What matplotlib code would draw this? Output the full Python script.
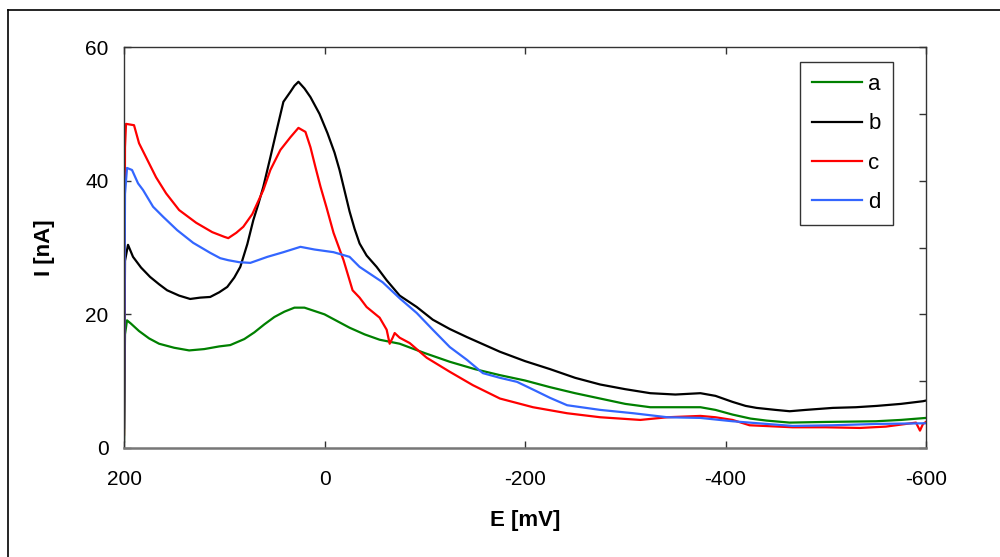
import matplotlib
matplotlib.use("Agg")
import matplotlib.pyplot as plt
from matplotlib.lines import Line2D
from matplotlib.ticker import MultipleLocator

plt.rcParams["font.family"] = ["Liberation Sans", "DejaVu Sans"]
plt.rcParams["axes.unicode_minus"] = False

# curve a (green)
e_a = [200, 199, 197, 193, 185, 175, 165, 150, 135, 120, 105, 94, 80, 70, 60, 50, 40, 30, 20, 10, 0,
       -10, -25, -40, -55, -75, -100, -125, -150, -175, -200, -225, -250, -275, -300, -325, -350,
       -375, -390, -407, -425, -441, -464, -500, -550, -575, -600]
i_a = [1, 17, 19.1, 18.6, 17.5, 16.4, 15.6, 15.0, 14.6, 14.8, 15.2, 15.4, 16.3, 17.3, 18.5, 19.6, 20.4,
       21.0, 21.0, 20.5, 20.0, 19.2, 18.0, 17.0, 16.2, 15.6, 14.2, 12.9, 11.8, 10.9, 10.1, 9.1, 8.2,
       7.4, 6.6, 6.1, 6.1, 6.1, 5.7, 5.0, 4.4, 4.1, 3.8, 3.9, 4.0, 4.2, 4.5]

# curve b (black)
e_b = [200, 199, 196, 191, 183, 174, 165, 157, 145, 134, 124, 114, 105, 97, 90, 84, 77, 71, 66, 61, 54,
       47, 41, 34, 30, 26, 20, 14, 5, -3, -10, -15, -20, -25, -30, -35, -42, -52, -62, -75, -92, -108,
       -125, -142, -160, -175, -200, -225, -250, -275, -300, -325, -350, -375, -390, -407, -420, -431,
       -450, -464, -480, -507, -530, -551, -575, -597, -600]
i_b = [1, 28, 30.4, 28.6, 27.0, 25.6, 24.5, 23.6, 22.8, 22.3, 22.5, 22.6, 23.3, 24.1, 25.5, 27.1, 30.5,
       34.1, 36.5, 39.1, 43.5, 48.0, 51.8, 53.3, 54.2, 54.8, 53.8, 52.5, 50.0, 47.1, 44.2, 41.6, 38.5,
       35.4, 32.8, 30.6, 28.8, 27.1, 25.1, 22.8, 21.1, 19.2, 17.8, 16.6, 15.4, 14.4, 13.0, 11.8, 10.5,
       9.5, 8.8, 8.2, 8.0, 8.2, 7.8, 6.9, 6.3, 6.0, 5.7, 5.5, 5.7, 6.0, 6.1, 6.3, 6.6, 7.0, 7.1]

# curve c (red)
e_c = [200, 199, 198, 190, 185, 178, 168, 158, 145, 128, 112, 100, 96, 88, 81, 72, 61, 54, 44, 34, 26,
       19, 14, 9, 4, -2, -9, -19, -25, -28, -35, -42, -55, -62, -65, -68, -70, -75, -85, -102, -125,
       -148, -175, -208, -242, -275, -315, -342, -375, -390, -407, -424, -467, -500, -534, -560, -580,
       -590, -594, -597, -600]
i_c = [2, 45, 48.5, 48.3, 45.6, 43.5, 40.5, 38.1, 35.6, 33.7, 32.3, 31.6, 31.4, 32.2, 33.1, 35.0, 38.6,
       41.6, 44.6, 46.5, 47.9, 47.3, 45.0, 42.0, 39.1, 36.0, 32.2, 28.1, 25.1, 23.6, 22.5, 21.1, 19.5,
       17.7, 15.6, 16.5, 17.2, 16.5, 15.7, 13.5, 11.4, 9.4, 7.4, 6.1, 5.2, 4.6, 4.2, 4.6, 4.8, 4.6, 4.2,
       3.4, 3.1, 3.1, 3.0, 3.2, 3.6, 3.8, 2.6, 3.6, 3.9]

# curve d (blue)
e_d = [200, 199, 197, 192, 186, 181, 171, 161, 147, 131, 114, 104, 96, 85, 74, 57, 41, 24, 10, -9, -25,
       -35, -45, -58, -75, -92, -108, -125, -142, -158, -175, -192, -210, -225, -242, -275, -308, -342,
       -375, -407, -441, -467, -507, -551, -600]
i_d = [3, 38, 41.9, 41.6, 39.6, 38.6, 36.1, 34.6, 32.6, 30.7, 29.2, 28.4, 28.1, 27.8, 27.7, 28.6, 29.3,
       30.1, 29.7, 29.3, 28.6, 27.1, 26.1, 24.8, 22.4, 20.2, 17.7, 15.1, 13.2, 11.2, 10.5, 9.9, 8.6,
       7.5, 6.4, 5.7, 5.2, 4.6, 4.5, 4.0, 3.6, 3.3, 3.4, 3.6, 3.7]

fig = plt.figure(figsize=(10, 5.57), dpi=100)
ax = fig.add_axes([0.124, 0.1957, 0.802, 0.7199])

ax.plot(e_a, i_a, color="#008000", lw=1.6, label="a")
ax.plot(e_b, i_b, color="black", lw=1.6, label="b")
ax.plot(e_c, i_c, color="#ff0000", lw=1.6, label="c")
ax.plot(e_d, i_d, color="#3366ff", lw=1.6, label="d")

ax.set_xlim(200, -600)
ax.set_ylim(0, 60)
ax.xaxis.set_major_locator(MultipleLocator(200))
ax.yaxis.set_major_locator(MultipleLocator(20))
ax.yaxis.set_minor_locator(MultipleLocator(10))

ax.tick_params(which="major", direction="in", length=5, width=1, top=True, right=True,
               labelsize=15, color="#333333")
ax.tick_params(which="minor", direction="in", length=5, width=1, left=False, right=True,
               bottom=False, top=False, color="#333333")
ax.tick_params(axis="y", pad=11)
ax.tick_params(axis="x", pad=16)

for side in ["left", "top", "right"]:
    ax.spines[side].set_color("#333333")
    ax.spines[side].set_linewidth(1)
ax.spines["bottom"].set_color("#777777")
ax.spines["bottom"].set_linewidth(1.8)

ax.set_xlabel("E [mV]", fontsize=16, fontweight="bold", labelpad=15)
ax.set_ylabel("I [nA]", fontsize=16, fontweight="bold", labelpad=22)

leg = ax.legend(loc="upper right", bbox_to_anchor=(0.959, 0.963), fontsize=16, frameon=True,
                fancybox=False, handlelength=2.25, handletextpad=0.3, labelspacing=0.82,
                borderpad=0.55, borderaxespad=0)
leg.get_frame().set_edgecolor("black")
leg.get_frame().set_linewidth(1)

# outer frame of the figure
fy = 1 - 10 / 557
fig.add_artist(Line2D([0.008, 0.008], [0, fy], color="black", lw=1.2, transform=fig.transFigure))
fig.add_artist(Line2D([0.008, 1.0], [fy, fy], color="black", lw=1.2, transform=fig.transFigure))

fig.savefig("out.png", dpi=100)
